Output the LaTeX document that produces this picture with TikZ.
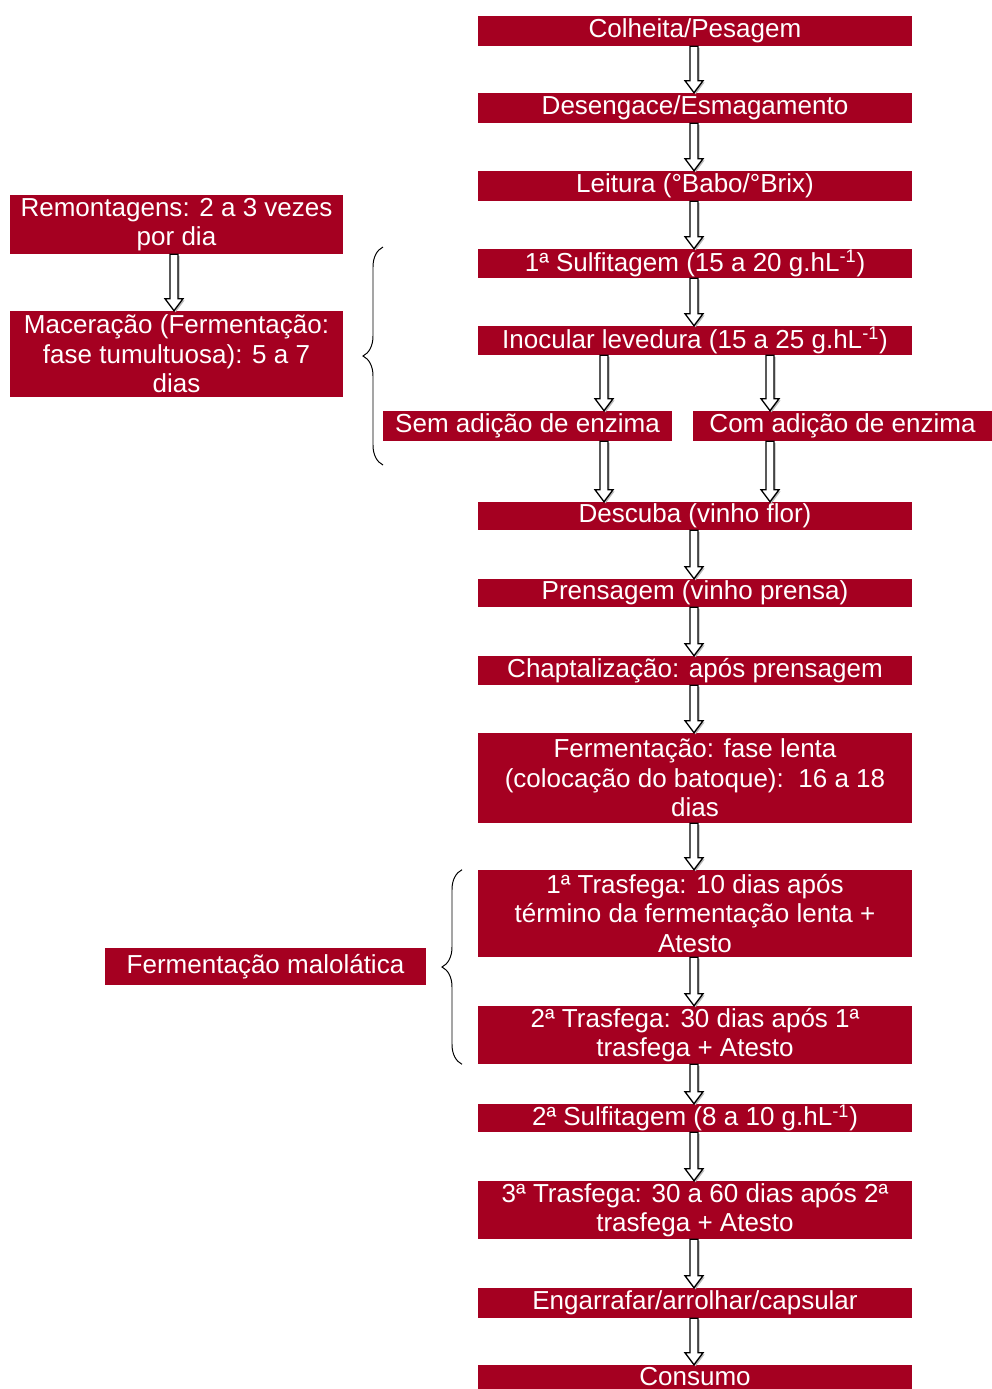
\documentclass[tikz,border=0pt]{standalone}
\usepackage{fontspec}
\setmainfont{Liberation Sans}
\usetikzlibrary{
    calc,                     % For offsets from anchors
    decorations.pathreplacing % For the curly braces
}
\definecolor{winered}{RGB}{165,0,33}

\begin{document}
\begin{tikzpicture}[
    x=0.025cm, y=-0.025cm,
    font=\fontsize{18.5}{21}\selectfont,
    stepbox/.style={
        fill=winered,
        text=white,
        align=center,
        inner sep=0pt,
        minimum width=10.85cm
    },
    blockarrow/.style={
        draw=black, fill=white, line width=0.95pt, line join=miter,
        preaction={fill=gray!55, transform canvas={shift={(0.04cm,-0.04cm)}}}
    },
    bracket/.style={
        decorate, decoration={brace, amplitude=0.5cm}, line width=0.7pt
    }
]
    \useasboundingbox (0,0) rectangle (992,1389);

    % --- Columns for the arrows ---
    \coordinate (cmain) at (694,0);
    \coordinate (csem) at (604,0);
    \coordinate (ccom) at (770,0);
    \coordinate (cleft) at (174,0);

    % --- Main sequence ---
    \node[stepbox, minimum height=0.75cm] (colheita) at (695,31) {Colheita/Pesagem};
    \node[stepbox, minimum height=0.75cm] (desengace) at (695,108) {Desengace/Esmagamento};
    \node[stepbox, minimum height=0.75cm] (leitura) at (695,186) {Leitura (°Babo/°Brix)};
    \node[stepbox, minimum height=0.725cm] (sulf1) at (695,263.5) {1ª Sulfitagem (15 a 20 g.hL\textsuperscript{-1})};
    \node[stepbox, minimum height=0.725cm] (inocular) at (695,340.5) {Inocular levedura (15 a 25 g.hL\textsuperscript{-1})};
    \node[stepbox, minimum width=7.225cm, minimum height=0.75cm] (sem) at (527.5,426) {Sem adição de enzima};
    \node[stepbox, minimum width=7.475cm, minimum height=0.75cm] (com) at (842.5,426) {Com adição de enzima};
    \node[stepbox, minimum height=0.7cm] (descuba) at (695,516) {Descuba (vinho flor)};
    \node[stepbox, minimum height=0.7cm] (prensagem) at (695,593) {Prensagem (vinho prensa)};
    \node[stepbox, minimum height=0.725cm] (chapt) at (695,670.5) {Chaptalização: após prensagem};
    \node[stepbox, minimum height=2.25cm] (fermlenta) at (695,778) {Fermentação: fase lenta\\ (colocação do batoque):\ \ 16 a 18\\ dias};
    \node[stepbox, minimum height=2.175cm] (trasf1) at (695,913.5) {1ª Trasfega: 10 dias após\\ término da fermentação lenta +\\ Atesto};
    \node[stepbox, minimum height=1.45cm] (trasf2) at (695,1035) {2ª Trasfega: 30 dias após 1ª\\ trasfega + Atesto};
    \node[stepbox, minimum height=0.7cm] (sulf2) at (695,1118) {2ª Sulfitagem (8 a 10 g.hL\textsuperscript{-1})};
    \node[stepbox, minimum height=1.45cm] (trasf3) at (695,1210) {3ª Trasfega: 30 a 60 dias após 2ª\\ trasfega + Atesto};
    \node[stepbox, minimum height=0.75cm] (engarrafar) at (695,1303) {Engarrafar/arrolhar/capsular};
    \node[stepbox, minimum height=0.6cm] (consumo) at (695,1377) {Consumo};

    % --- Side notes ---
    \node[stepbox, minimum width=8.325cm, minimum height=1.475cm] (remont) at (176.5,224.5) {Remontagens: 2 a 3 vezes\\ por dia};
    \node[stepbox, minimum width=8.325cm, minimum height=2.15cm] (macer) at (176.5,354) {Maceração (Fermentação:\\ fase tumultuosa): 5 a 7\\ dias};
    \node[stepbox, minimum width=8.025cm, minimum height=0.925cm] (malol) at (265.5,966.5) {Fermentação malolática};

    % --- Block arrows ---
    \foreach \a/\b/\c in {colheita/desengace/cmain, desengace/leitura/cmain,
        leitura/sulf1/cmain, sulf1/inocular/cmain, inocular/sem/csem,
        inocular/com/ccom, sem/descuba/csem, com/descuba/ccom,
        descuba/prensagem/cmain, prensagem/chapt/cmain, chapt/fermlenta/cmain,
        fermlenta/trasf1/cmain, trasf1/trasf2/cmain, trasf2/sulf2/cmain,
        sulf2/trasf3/cmain, trasf3/engarrafar/cmain, engarrafar/consumo/cmain,
        remont/macer/cleft} {
        \draw[blockarrow] ($(\a.south -| \c)+(-4,0)$) -- ($(\b.north -| \c)+(-4,-12)$)
            -- ++(-5,0) -- (\b.north -| \c) -- ++(9,-12) -- ++(-5,0)
            -- ($(\a.south -| \c)+(4,0)$) -- cycle;
    }

    % --- Braces ---
    \coordinate (brace1top) at (383,247);
    \coordinate (brace1bot) at (383,465);
    \draw[bracket] (brace1bot) -- (brace1top);
    \draw[bracket] ($(trasf2.south -| 462,0)$) -- ($(trasf1.north -| 462,0)$);

\end{tikzpicture}
\end{document}
